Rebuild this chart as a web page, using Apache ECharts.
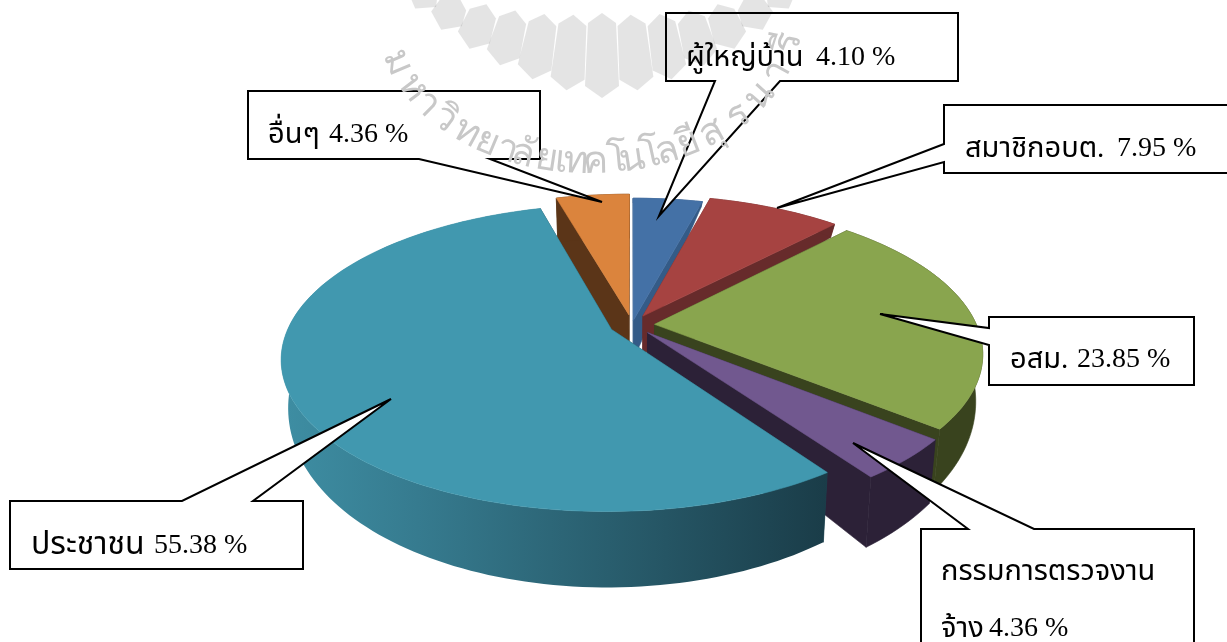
<!DOCTYPE html>
<html><head><meta charset="utf-8">
<style>html,body{margin:0;padding:0;background:#fff}#c{width:1227px;height:642px}</style>
<script src="https://cdn.jsdelivr.net/npm/echarts@6/dist/echarts.min.js"></script>
</head><body><div id="c"></div>
<script>
const categories = ['ผู้ใหญ่บ้าน','สมาชิกอบต.','อสม.','กรรมการตรวจงานจ้าง','ประชาชน','อื่นๆ'];
const values = [4.10,7.95,23.85,4.36,55.38,4.36];
const topColors = ['#4471A6','#A64341','#89A54E','#71588F','#4198AF','#DB843D'];
const wallColors = ['#345B87','#672B2B','#39431E','#2C2137','#1C4350','#5B3518'];
const explodes = [10,22.6,22.6,22.6,22.6,22.6];
const drawOrder = [1,2,3,4,5,0];
const watermarkClusters = ['ม','ห','า','วิ','ท','ย','า','ลั','ย','เ','ท','ค','โ','น','โ','ล','ยี','สุ','ร','น','า','รี'];

const SERIF = '"Liberation Serif","DejaVu Serif",serif';
const THAI = '"Liberation Serif","Noto Sans Thai","Noto Serif Thai","DejaVu Serif",serif';
const cx=632, cy=325, R=322, b=0.455, d=1738, kb=0.98, g0=40.4, g1=0.107, orangeGap=44;
const total = values.reduce((a,v)=>a+v,0);
const starts=[]; values.reduce((a,v,i)=>{starts[i]=a;return a+v;},0);

function topPt(X,Z){const w=1-Z/d;return [cx+X/w, cy+Z*b/w];}
function botPt(X,Z,i){const p=topPt(X,Z);const g=i===5?orangeGap:g0+g1*Z;return [cx+(p[0]-cx)*kb, p[1]+g];}

function renderSlice(params,api){
  const i=params.dataIndex, v=api.value(0);
  const a0=starts[i]/total*2*Math.PI, a1=a0+v/total*2*Math.PI, m=(a0+a1)/2;
  const e=explodes[i], ex=e*Math.sin(m), ez=-e*Math.cos(m);
  const n=Math.max(6,Math.round((a1-a0)*40));
  const pts=[];
  for(let k=0;k<=n;k++){const a=a0+(a1-a0)*k/n;pts.push([ex+R*Math.sin(a),ez-R*Math.cos(a)]);}
  const T=p=>topPt(p[0],p[1]), B=p=>botPt(p[0],p[1],i), A=[ex,ez];
  const wallFill = i===4
    ? new echarts.graphic.LinearGradient(0,0,1,0,[{offset:0,color:'#3E8EA3'},{offset:.25,color:'#367B8F'},{offset:.6,color:'#295E6E'},{offset:1,color:'#1A3C48'}])
    : wallColors[i];
  const base=drawOrder[i]*10;
  const poly=(points,fill,k)=>({type:'polygon',z2:base+k,shape:{points},style:{fill,stroke:typeof fill==='string'?fill:null,lineWidth:0.6}});
  return {type:'group',children:[
    poly([T(A),T(pts[0]),B(pts[0]),B(A)],wallColors[i],0),
    poly([T(A),T(pts[n]),B(pts[n]),B(A)],wallColors[i],1),
    poly(pts.map(T).concat(pts.slice().reverse().map(B)),wallFill,2),
    poly([T(A)].concat(pts.map(T)),topColors[i],3)
  ]};
}

const graphics=[];
// callouts
const callouts=[
  {pts:[[248,91],[540,91],[540,159],[490,159],[602,202],[419,159],[248,159]],lines:[{t:'อื่นๆ',x:268,y:135},{t:'4.36 %',x:329,y:135,num:1}]},
  {pts:[[666,13],[958,13],[958,81],[780,81],[659,216],[715,81],[666,81]],lines:[{t:'ผู้ใหญ่บ้าน',x:686,y:58},{t:'4.10 %',x:816,y:58,num:1}]},
  {pts:[[944,105],[1240,105],[1240,173],[944,173],[944,162],[777,208],[944,144]],lines:[{t:'สมาชิกอบต.',x:965,y:149},{t:'7.95 %',x:1117,y:149,num:1}]},
  {pts:[[989,317],[1194,317],[1194,385],[989,385],[989,345],[880,314],[989,328]],lines:[{t:'อสม.',x:1010,y:360},{t:'23.85 %',x:1077,y:360,num:1}]},
  {pts:[[921,529],[968,529],[853,443],[1034,529],[1194,529],[1194,670],[921,670]],lines:[{t:'กรรมการตรวจงาน',x:941,y:572},{t:'จ้าง',x:941,y:629},{t:'4.36 %',x:989,y:629,num:1}]},
  {pts:[[10,501],[182,501],[391,399],[253,501],[303,501],[303,569],[10,569]],lines:[{t:'ประชาชน',x:31,y:546,size:32},{t:'55.38 %',x:154,y:546,num:1}]}
];
callouts.forEach(c=>{
  graphics.push({type:'polygon',z:10,silent:true,shape:{points:c.pts},style:{fill:'#fff',stroke:'#000',lineWidth:2,lineJoin:'miter'}});
  c.lines.forEach(l=>graphics.push({type:'text',z:11,silent:true,x:l.x,y:l.y,
    style:{text:l.t,font:(l.num?'28px ':(l.size||29)+'px ')+(l.num?SERIF:THAI),fill:'#000',textAlign:'left',textVerticalAlign:'middle'}}));
});
// watermark, multiplied over everything
const wmCx=602, wmCy=-300;
for(let k=-6;k<=6;k++){
  const deg=k*5.2, t=deg*Math.PI/180, ux=Math.sin(t), uy=Math.cos(t), px=uy, py=-ux;
  const rOut=398-1.2*Math.abs(deg), rIn=313+0.6*Math.abs(deg);
  const P=(r,o)=>[wmCx+ux*r+px*o, wmCy+uy*r+py*o];
  graphics.push({type:'polygon',z:20,silent:true,shape:{points:[P(rIn,0),P(rIn+10,14),P(rOut-12,17),P(rOut,0),P(rOut-12,-17),P(rIn+10,-14)]},style:{fill:'#E4E4E4',blend:'multiply'}});
}
const wmXs=[398,413,427,445,467,487,507,523,547,562,576,595,617,632,650,667,688,712,738,760,777,788];
const ea=200, eb=139, eyc=23, ecx=590;
watermarkClusters.forEach((c,i)=>{
  const dx=wmXs[i]-ecx, q=Math.sqrt(Math.max(0.01,1-(dx/ea)*(dx/ea)));
  const y=eyc+eb*q, slope=-(eb/ea)*(dx/ea)/q;
  graphics.push({type:'text',z:20,silent:true,x:wmXs[i],y:y,rotation:-Math.atan(slope),
    style:{text:c,font:'38px "Noto Sans","DejaVu Sans",sans-serif',fill:'#C8C8C8',textAlign:'center',textVerticalAlign:'middle',blend:'multiply'}});
});

const chart=echarts.init(document.getElementById('c'),null,{renderer:'canvas'});
chart.setOption({
  animation:false,backgroundColor:'#fff',
  graphic:graphics,
  series:[{type:'custom',coordinateSystem:'none',z:5,silent:true,renderItem:renderSlice,
    data:values.map((v,i)=>({name:categories[i],value:[v]})),clip:false}]
});
</script></body></html>
